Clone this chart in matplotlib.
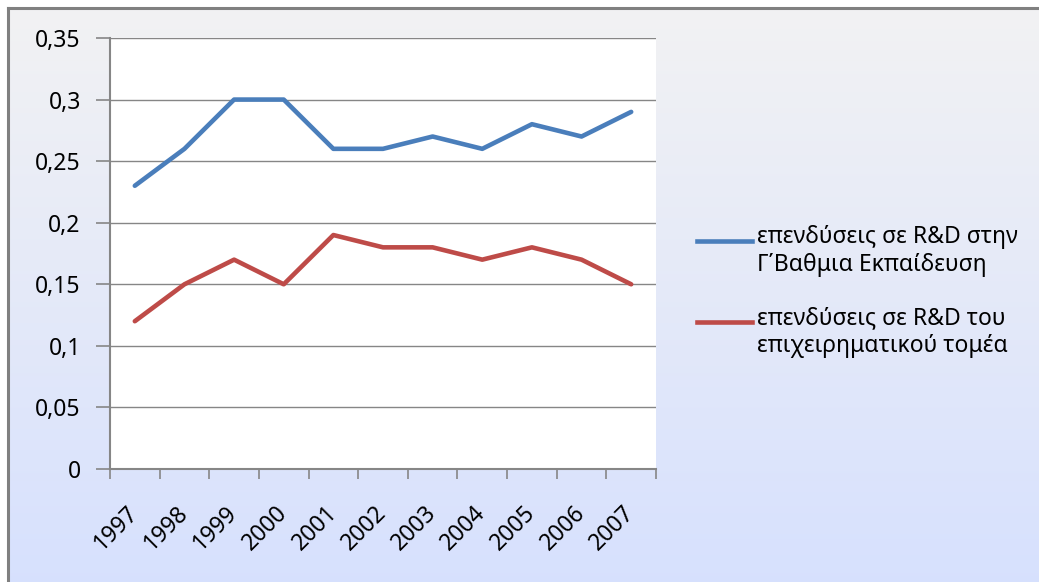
import numpy as np
import matplotlib
matplotlib.use('Agg')
import matplotlib.pyplot as plt
from matplotlib.lines import Line2D

years = ['1997', '1998', '1999', '2000', '2001', '2002', '2003', '2004', '2005', '2006', '2007']
higher_ed = [0.23, 0.26, 0.30, 0.30, 0.26, 0.26, 0.27, 0.26, 0.28, 0.27, 0.29]
business = [0.12, 0.15, 0.17, 0.15, 0.19, 0.18, 0.18, 0.17, 0.18, 0.17, 0.15]
y_ticks = [0, 0.05, 0.1, 0.15, 0.2, 0.25, 0.3, 0.35]
y_labels = ['0', '0,05', '0,1', '0,15', '0,2', '0,25', '0,3', '0,35']
labels = ['επενδύσεις σε R&D στην\nΓ΄Βαθμια Εκπαίδευση',
          'επενδύσεις σε R&D του\nεπιχειρηματικού τομέα']
colors = ['#4A7EBB', '#BE4B48']

plt.rcParams['font.family'] = ['Noto Sans', 'DejaVu Sans']
FS = 16.5

W, H = 1039, 582
fig = plt.figure(figsize=(W / 100, H / 100), dpi=100)

# background panel: gray-white at top fading into pale blue
bg = fig.add_axes([8 / W, -0.1, 1.1, 1.1 - 8 / H], zorder=-10)
top = np.array([242, 242, 243]) / 255
bot = np.array([212, 223, 255]) / 255
t = np.linspace(0, 1, 256)[:, None]
grad = top[None, None, :] * (1 - t[..., None]) + bot[None, None, :] * t[..., None]
grad = np.repeat(grad, 2, axis=1)
bg.imshow(grad, aspect='auto', extent=[0, 1, 0, 1])
bg.set_xticks([])
bg.set_yticks([])
for s in ['right', 'bottom']:
    bg.spines[s].set_visible(False)
for s in ['left', 'top']:
    bg.spines[s].set_color('#808080')
    bg.spines[s].set_linewidth(2.2)

ax = fig.add_axes([110 / W, 113 / H, 546 / W, 431 / H])
ax.set_facecolor('white')
x = np.arange(len(years))
ax.plot(x, higher_ed, color=colors[0], lw=3.3, solid_capstyle='round', zorder=3)
ax.plot(x, business, color=colors[1], lw=3.3, solid_capstyle='round', zorder=3)

ax.set_xlim(-0.5, len(years) - 0.5)
ax.set_ylim(0, 0.35)
ax.set_yticks(y_ticks)
ax.set_yticklabels(y_labels)
ax.grid(axis='y', color='#868686', lw=1)
ax.set_axisbelow(True)

# tick marks sit between categories, labels at category centres
ax.set_xticks(np.arange(-0.5, len(years), 1))
ax.set_xticklabels([])
ax.set_xticks(x, minor=True)
ax.set_xticklabels(years, minor=True, rotation=45, ha='right', rotation_mode='anchor', va='center')
ax.tick_params(axis='x', which='major', length=7, width=1.2, color='#868686')
ax.tick_params(axis='x', which='minor', length=0, pad=29, labelsize=FS)
ax.tick_params(axis='y', length=10, width=1.2, color='#868686', pad=11, labelsize=FS)

for s in ['top', 'right']:
    ax.spines[s].set_visible(False)
for s in ['left', 'bottom']:
    ax.spines[s].set_color('#868686')
    ax.spines[s].set_linewidth(1.5)

# legend: handle lines up with the first line of each label
for i, (lab, c) in enumerate(zip(labels, colors)):
    y0 = 1 - (241 + 81 * i) / H
    fig.add_artist(Line2D([697 / W, 752 / W], [y0, y0], color=c, lw=3.3, transform=fig.transFigure))
    fig.text(757 / W, y0 + 16 / H, lab, fontsize=FS, va='top', ha='left', linespacing=1.2)

fig.savefig('out.png', dpi=100)
